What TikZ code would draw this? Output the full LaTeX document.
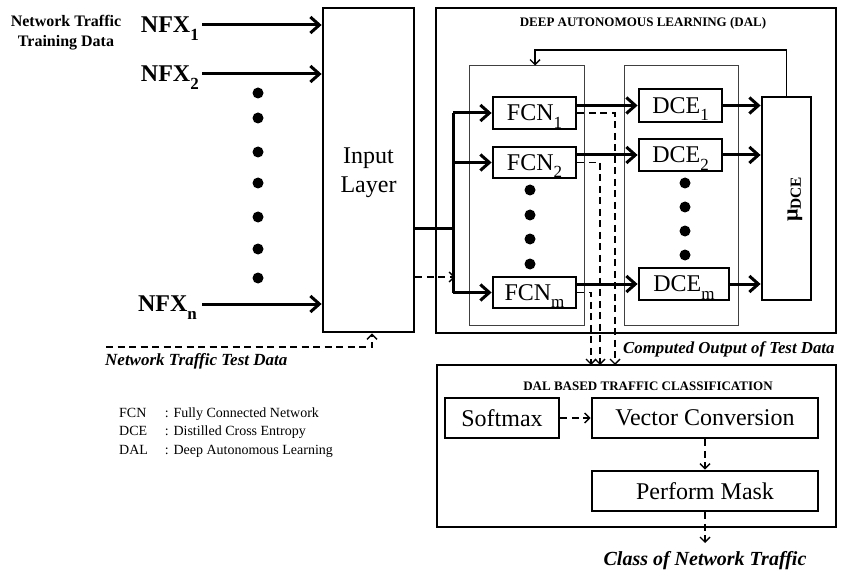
\documentclass[tikz,border=0pt]{standalone}
\usepackage{fontspec}
\setmainfont{Liberation Serif}
\usetikzlibrary{arrows.meta}
\newcommand{\lsub}[1]{\raisebox{-7.5pt}{\fontsize{17}{17}\selectfont #1}}
\begin{document}
\begin{tikzpicture}[x=1pt,y=-1pt,
  box/.style={draw, line width=2.8pt, inner sep=0pt, text depth=0pt, font=\fontsize{24}{29}\selectfont},
  grp/.style={draw, line width=1pt, inner sep=0pt, black!75},
  thk/.style={line width=3pt},
  thkarr/.style={line width=3pt, -{Straight Barb[length=9pt,width=16pt]}},
  dasharr/.style={line width=1.4pt, dash pattern=on 7pt off 4.5pt, -{Straight Barb[length=5pt,width=10pt]}},
  thinarr/.style={line width=1.4pt, -{Straight Barb[length=5pt,width=10pt]}},
  bigdot/.style={circle, fill, inner sep=0pt, minimum size=11pt},
  nfx/.style={font=\bfseries\fontsize{24}{28}\selectfont, text depth=0pt, inner sep=0pt},
  ttl/.style={font=\bfseries\fontsize{13}{15}\selectfont},
  itl/.style={font=\bfseries\itshape\fontsize{17}{20}\selectfont, inner sep=0pt},
]
\useasboundingbox (0,0) rectangle (843,572);

% left side
\node[font=\bfseries\fontsize{16}{20}\selectfont, align=center] (train) at (66,33) {Network Traffic\\Training Data};
\node[box, minimum width=91pt, minimum height=324pt, align=center] (inp) at (368.5,170) {Input\\Layer};
\node[nfx, anchor=east] (nfx1) at (199,25) {NFX\lsub{1}};
\node[nfx, anchor=east] (nfx2) at (199,74) {NFX\lsub{2}};
\node[nfx, anchor=east] (nfxn) at (197,304) {NFX\lsub{n}};
\draw[thkarr] ([xshift=3pt]nfx1.east) -- (nfx1.east -| inp.west);
\draw[thkarr] ([xshift=3pt]nfx2.east) -- (nfx2.east -| inp.west);
\draw[thkarr] ([xshift=5pt]nfxn.east) -- (nfxn.east -| inp.west);
\foreach \y/\n in {93/1,118/2,152/3,183/4,217/5,249/6,278/7}
  \node[bigdot] (ld\n) at (258,\y) {};

\coordinate (td) at (106,347);
\draw[dasharr] (td) -| ([xshift=3.5pt]inp.south);
\node[itl, anchor=west] (tdl) at (105,361) {Network Traffic Test Data};

% legend
\node[anchor=north west, inner sep=0pt, font=\fontsize{14}{18.5}\selectfont] (legend) at (119,404)
  {\begin{tabular}{@{}l@{\hspace{17pt}}l@{}}
   FCN & : Fully Connected Network\\
   DCE & : Distilled Cross Entropy\\
   DAL & : Deep Autonomous Learning
   \end{tabular}};

% DAL block
\node[box, minimum width=400pt, minimum height=325pt] (dal) at (636,170.5) {};
\node[ttl] (daltitle) at (643,23) {DEEP AUTONOMOUS LEARNING (DAL)};
\node[grp, minimum width=115pt, minimum height=259pt] (fcng) at (526.5,195.5) {};
\node[grp, minimum width=114pt, minimum height=259pt] (dceg) at (681,195.5) {};

\node[box, minimum width=83pt, minimum height=32pt] (fcn1) at (534.5,113) {FCN\lsub{1}};
\node[box, minimum width=83pt, minimum height=31pt] (fcn2) at (534.5,162.5) {FCN\lsub{2}};
\node[box, minimum width=83pt, minimum height=31pt] (fcnm) at (534.5,292.5) {FCN\lsub{m}};
\node[box, minimum width=83pt, minimum height=33pt] (dce1) at (680.5,105.5) {DCE\lsub{1}};
\node[box, minimum width=83pt, minimum height=32pt] (dce2) at (680.5,155) {DCE\lsub{2}};
\node[box, minimum width=90pt, minimum height=32pt] (dcem) at (684,284) {DCE\lsub{m}};
\node[box, minimum width=49pt, minimum height=203pt] (mu) at (786.5,198.5) {};
\node[rotate=90, font=\bfseries\fontsize{22}{24}\selectfont, inner sep=0pt] (mulabel) at (795,199) {μ\textsubscript{DCE}};

\foreach \y/\n in {190/1,215/2,239/3,264/4}
  \node[bigdot] (fd\n) at (530,\y) {};
\foreach \y/\n in {183/1,207/2,231/3,255/4}
  \node[bigdot] (dd\n) at (685,\y) {};

% input layer to FCNs
\coordinate (trunk) at (453,228);
\draw[thk] (inp.east |- trunk) -- (trunk);
\draw[thk] (trunk |- fcn1.west) -- (trunk |- fcnm.west);
\draw[thkarr] (trunk |- fcn1.west) -- (fcn1.west);
\draw[thkarr] (trunk |- fcn2.west) -- (fcn2.west);
\draw[thkarr] (trunk |- fcnm.west) -- (fcnm.west);
\coordinate (tdin) at (455,277);
\draw[dasharr] (inp.east |- tdin) -- (tdin);

% FCN -> DCE -> mu
\draw[thkarr] (fcn1.east |- dce1.west) -- (dce1.west);
\draw[thkarr] (fcn2.east |- dce2.west) -- (dce2.west);
\draw[thkarr] (fcnm.east |- dcem.west) -- (dcem.west);
\draw[thkarr] (dce1.east) -- (dce1.east -| mu.west);
\draw[thkarr] (dce2.east) -- (dce2.east -| mu.west);
\draw[thkarr] (dcem.east) -- (dcem.east -| mu.west);

% feedback
\coordinate (fb) at (535,50);
\draw[thinarr] (mu.north) |- (fb) -- (fb |- fcng.north);

% classification block
\node[box, minimum width=399pt, minimum height=162pt] (cls) at (636.5,446) {};
\node[ttl] (clstitle) at (648,386) {DAL BASED TRAFFIC CLASSIFICATION};
\node[box, minimum width=114pt, minimum height=40pt] (soft) at (502,418) {Softmax};
\node[box, minimum width=226pt, minimum height=40pt] (vec) at (705,418) {Vector Conversion};
\node[box, minimum width=226pt, minimum height=40pt] (mask) at (705,491) {Perform Mask};

% computed outputs
\coordinate (c1) at (615,365);
\coordinate (c2) at (600,365);
\coordinate (cm) at (591,365);
\draw[dasharr] (fcn1.east) -| (c1);
\draw[dasharr] (fcn2.east) -| (c2);
\draw[dasharr] (fcnm.east) -| (cm);
\node[itl, anchor=west, font=\bfseries\itshape\fontsize{16.8}{20}\selectfont] (comp) at (623,349) {Computed Output of Test Data};

\draw[dasharr] (soft) -- (vec);
\draw[dasharr] (vec) -- (mask);
\coordinate (out) at (705,543);
\draw[dasharr] (mask) -- (out);
\node[itl, font=\bfseries\itshape\fontsize{20}{22}\selectfont] (clsout) at (705,561) {Class of Network Traffic};
\end{tikzpicture}
\end{document}
